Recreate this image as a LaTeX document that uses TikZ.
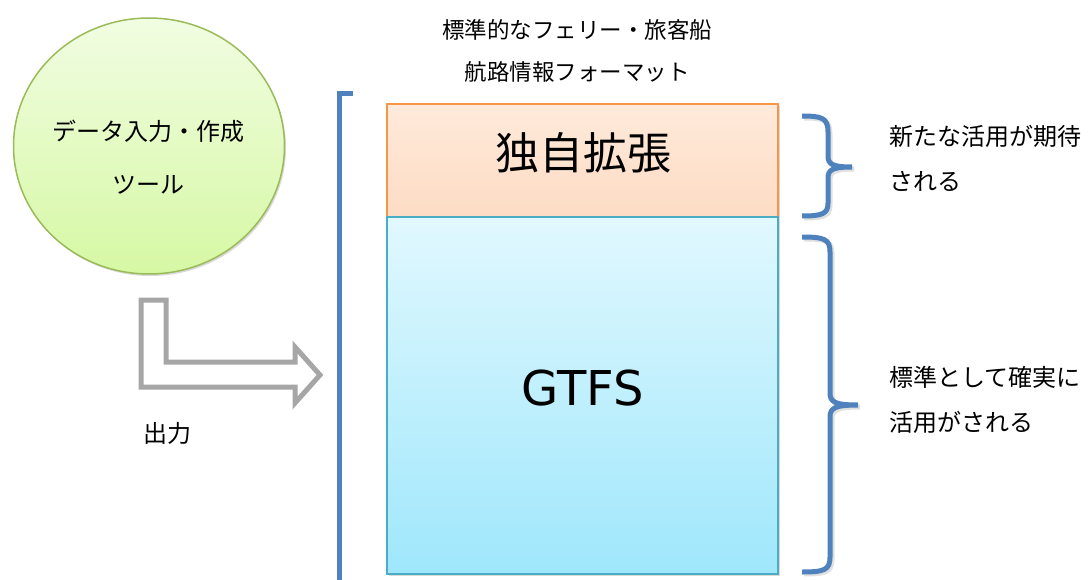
\documentclass[tikz,border=0pt]{standalone}
\usepackage{fontspec}
\setmainfont{Noto Sans CJK JP}
\newfontfamily\latinfont{DejaVu Sans}
\usetikzlibrary{shapes.geometric,shadows}
\definecolor{brblue}{HTML}{4F81BD}
\definecolor{arrowgray}{HTML}{A6A6A6}
\definecolor{circborder}{HTML}{9BBB59}
\definecolor{circtop}{HTML}{F1FDE2}
\definecolor{circbot}{HTML}{D6F8A4}
\definecolor{orborder}{HTML}{F79646}
\definecolor{ortop}{HTML}{FFEADB}
\definecolor{orbot}{HTML}{FDDCC4}
\definecolor{blborder}{HTML}{4BACC6}
\definecolor{bltop}{HTML}{E1F8FE}
\definecolor{blbot}{HTML}{9FE7FC}
\begin{document}
\begin{tikzpicture}[x=1pt,y=-1pt,
  txt/.style={inner sep=0pt, font=\fontsize{24}{45}\selectfont},
  shadowed/.style={drop shadow={opacity=0.3, shadow xshift=1.5pt, shadow yshift=-2pt}},
  toolcircle/.style={ellipse, draw=circborder, line width=1.5pt, shading=axis,
    top color=circtop, bottom color=circbot, minimum width=271pt, minimum height=256pt,
    inner sep=0pt, shadowed},
  extbox/.style={rectangle, draw=orborder, line width=1.2pt, top color=ortop, bottom color=orbot,
    minimum width=391pt, minimum height=113pt, inner sep=0pt, shadowed},
  gtfsbox/.style={rectangle, draw=blborder, line width=1.5pt, top color=bltop, bottom color=blbot,
    minimum width=391pt, minimum height=357pt, inner sep=0pt, shadowed},
  bracket/.style={draw=brblue, line width=5pt},
  brshadow/.style={draw=black, opacity=0.12, line width=5pt},
  outarrow/.style={draw=arrowgray, line width=5pt, fill=white, line join=miter}
]
\useasboundingbox (0,0) rectangle (1091,580);

% title
\node[txt, font=\fontsize{22.5}{42}\selectfont, align=center] (title) at (577,51)
  {標準的なフェリー・旅客船\\航路情報フォーマット};

% tool circle
\node[toolcircle] (tool) at (149,146) {};
\node[txt, font=\fontsize{24}{53}\selectfont, align=center] (tooltext) at (148,157)
  {データ入力・作成\\ツール};

% output arrow
\draw[outarrow] (141,300) -- (166,300) -- (166,362) -- (295,362) -- (295,347)
  -- (320,375) -- (295,403) -- (295,387) -- (141,387) -- cycle;
\node[txt] (outlabel) at (167,433) {出力};

% left bracket
\draw[bracket] (353,94) -- (339,94) -- (339,590);

% boxes
\node[extbox] (ext) at (582.5,160.5) {};
\node[gtfsbox] (gtfs) at (582.5,395.5) {};
\node[inner sep=0pt, font=\fontsize{44}{50}\selectfont] (exttext) at (583,153) {独自拡張};
\node[inner sep=0pt, font=\latinfont\fontsize{48}{56}\selectfont] (gtfstext) at (583,388) {GTFS};

% right braces
\path[brshadow] (804,118) .. controls (824,118) and (830,120) .. (830,134) -- (830,158)
  .. controls (830,166) and (834,169) .. (854,169)
  (854,169) .. controls (834,169) and (830,172) .. (830,180) -- (830,205)
  .. controls (830,216) and (824,218) .. (804,218);
\path[bracket] (802,116) .. controls (822,116) and (828,118) .. (828,132) -- (828,156)
  .. controls (828,164) and (832,167) .. (852,167)
  (852,167) .. controls (832,167) and (828,170) .. (828,178) -- (828,203)
  .. controls (828,214) and (822,216) .. (802,216);

\path[brshadow] (804,239) .. controls (826,239) and (832,241) .. (832,254) -- (832,395)
  .. controls (832,404) and (837,407) .. (860,407)
  (860,407) .. controls (837,407) and (832,410) .. (832,419) -- (832,559)
  .. controls (832,572) and (826,574) .. (804,574);
\path[bracket] (802,237) .. controls (824,237) and (830,239) .. (830,252) -- (830,393)
  .. controls (830,402) and (835,405) .. (858,405)
  (858,405) .. controls (835,405) and (830,408) .. (830,417) -- (830,557)
  .. controls (830,570) and (824,572) .. (802,572);

% right texts
\node[txt, align=left, anchor=west] (exttxt) at (889,158) {新たな活用が期待\\される};
\node[txt, align=left, anchor=west] (gtfstxt) at (889,400) {標準として確実に\\活用がされる};
\end{tikzpicture}
\end{document}
